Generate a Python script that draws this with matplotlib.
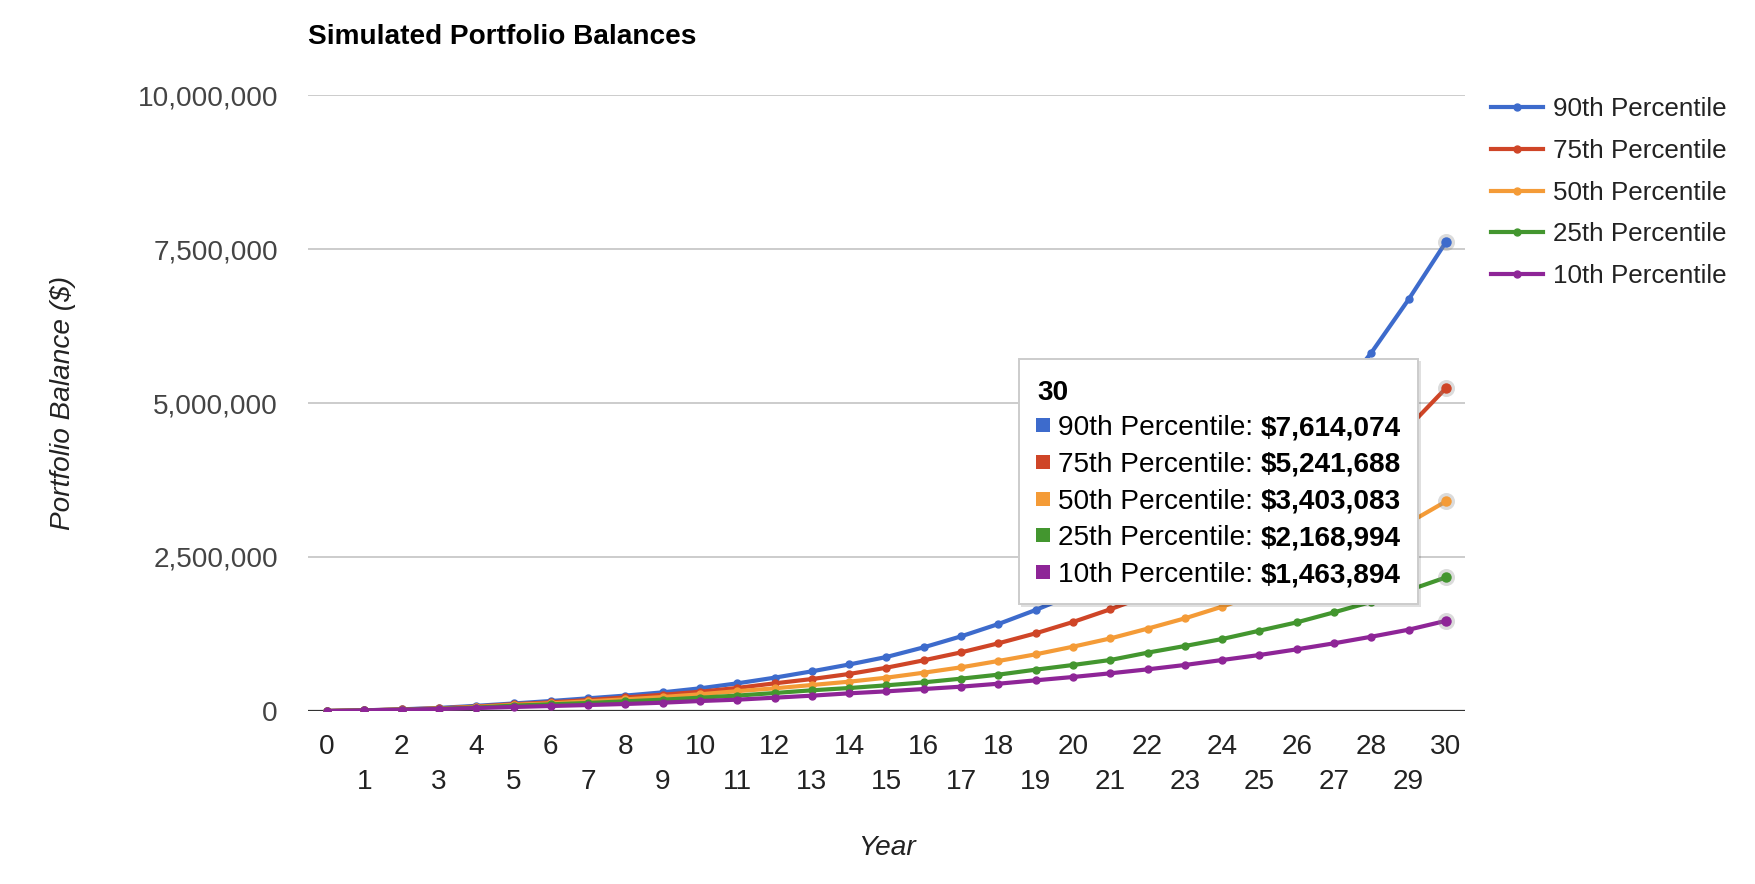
import matplotlib
matplotlib.use("Agg")
import matplotlib.pyplot as plt
from matplotlib.patches import Rectangle
from matplotlib.ticker import FuncFormatter

plt.rcParams['font.family'] = ['Liberation Sans', 'DejaVu Sans']

# simulated balances per year
years = list(range(31))
p90 = [0, 11000, 27000, 50000, 84000, 122000, 162000, 206000, 250000, 303000,
       368000, 449000, 541000, 644000, 755000, 877000, 1034000, 1212000, 1412000, 1640000,
       1890000, 2170000, 2500000, 2880000, 3310000, 3810000, 4390000, 5050000, 5817000, 6683000,
       7614074]
p75 = [0, 11000, 25000, 43000, 72000, 110000, 140000, 178000, 220000, 264000,
       312000, 375000, 449000, 519000, 601000, 703000, 823000, 952000, 1099000, 1261000,
       1445000, 1651000, 1877000, 2134000, 2427000, 2760000, 3137000, 3567000, 4055000, 4610000,
       5241688]
p50 = [0, 10500, 23000, 40000, 64000, 100000, 124000, 157000, 189000, 227000,
       271000, 322000, 368000, 422000, 476000, 541000, 622000, 709000, 812000, 920000,
       1044000, 1178000, 1337000, 1504000, 1694000, 1906000, 2144000, 2412000, 2714000, 3054000,
       3403083]
p25 = [0, 10000, 22000, 36000, 56000, 87000, 108000, 130000, 157000, 184000,
       216000, 250000, 292000, 336000, 373000, 417000, 465000, 525000, 590000, 671000,
       747000, 828000, 947000, 1055000, 1169000, 1304000, 1439000, 1602000, 1772000, 1960000,
       2168994]
p10 = [0, 10000, 21000, 32000, 48000, 65000, 81000, 97000, 114000, 135000,
       162000, 184000, 216000, 249000, 287000, 319000, 357000, 395000, 443000, 498000,
       552000, 612000, 676000, 747000, 828000, 909000, 1001000, 1099000, 1206000, 1320000,
       1463894]

names = ['90th Percentile', '75th Percentile', '50th Percentile', '25th Percentile', '10th Percentile']
colors = ['#3d6bcc', '#cf4527', '#f49b37', '#43962f', '#8e2597']
series = [p90, p75, p50, p25, p10]
y_ticks = [0, 2500000, 5000000, 7500000, 10000000]

W, H = 1756, 884
FS = 20.2


def fx(x):
    return x / W


def fy(y):
    return 1 - y / H


fig = plt.figure(figsize=(W / 100, H / 100), dpi=100)
ax = fig.add_axes([fx(308), fy(711), (1465 - 308) / W, (711 - 95) / H])

for name, vals, col in zip(names, series, colors):
    ax.plot(years, vals, color=col, lw=3.0, marker='o', ms=5, label=name, zorder=3)
    ax.scatter([years[-1]], [vals[-1]], s=150, color='#888888', alpha=0.3, lw=0, zorder=3)
    ax.plot([years[-1]], [vals[-1]], 'o', ms=6.5, color=col, zorder=3)

ax.set_xlim(-0.51, 30.51)
ax.set_ylim(0, 10000000)
ax.set_yticks(y_ticks)
ax.yaxis.set_major_formatter(FuncFormatter(lambda v, p: '{:,.0f}'.format(v)))
ax.set_xticks(years[::2])
ax.set_xticks(years[1::2], minor=True)
ax.set_xticklabels([str(y) for y in years[::2]])
ax.set_xticklabels([str(y) for y in years[1::2]], minor=True)
ax.tick_params(axis='x', which='major', length=0, pad=16.5, labelsize=FS, labelcolor='#222222')
ax.tick_params(axis='x', which='minor', length=0, pad=41.5, labelsize=FS, labelcolor='#222222')
ax.tick_params(axis='y', length=0, pad=21.6, labelsize=FS, labelcolor='#444444')
for s in ax.spines.values():
    s.set_visible(False)
ax.grid(axis='y', color='#cccccc', lw=1.4)
ax.set_axisbelow(True)
ax.axhline(0, color='#333333', lw=1.6, zorder=2)

ax.set_xlabel('Year', fontsize=FS, style='italic', color='#222222', va='center')
ax.xaxis.set_label_coords(0.5, (711 - 848) / 616)
ax.set_ylabel('Portfolio Balance ($)', fontsize=FS, style='italic', color='#222222', va='center')
ax.yaxis.set_label_coords((63 - 308) / 1157, 0.5)

fig.text(fx(308), fy(44), 'Simulated Portfolio Balances', fontsize=FS, fontweight='bold',
         ha='left', va='baseline')

leg = ax.legend(loc='upper left', bbox_to_anchor=(fx(1491), fy(97.5)), bbox_transform=fig.transFigure,
                frameon=False, fontsize=18.7, handlelength=2.0, handletextpad=0.38,
                labelspacing=0.68, borderpad=0, borderaxespad=0)
for t in leg.get_texts():
    t.set_color('#222222')

# tooltip for the last year
fig.add_artist(Rectangle((fx(1021), fy(607)), 400 / W, 246 / H, transform=fig.transFigure,
                         facecolor='#000000', alpha=0.12, lw=0, zorder=5))
fig.add_artist(Rectangle((fx(1019), fy(604)), 399 / W, 245 / H, transform=fig.transFigure,
                         facecolor='white', edgecolor='#cccccc', lw=1.4, zorder=6))
fig.text(fx(1037), fy(400), str(years[-1]), fontsize=FS, fontweight='bold', ha='left',
         va='baseline', zorder=7)
renderer = fig.canvas.get_renderer()
for i, (name, vals, col) in enumerate(zip(names, series, colors)):
    yc = 425 + 36.8 * i
    fig.add_artist(Rectangle((fx(1036), fy(yc + 7)), 14 / W, 14 / H, transform=fig.transFigure,
                             facecolor=col, lw=0, zorder=7))
    t = fig.text(fx(1058), fy(yc + 10), name + ': ', fontsize=FS, ha='left', va='baseline',
                 color='#000000', zorder=7)
    bb = t.get_window_extent(renderer=renderer)
    fig.text(bb.x1 / W, fy(yc + 10), '${:,.0f}'.format(vals[-1]), ha='left', va='baseline',
             fontsize=FS, fontweight='bold', color='#000000', zorder=7)

fig.savefig('out.png', dpi=100)
